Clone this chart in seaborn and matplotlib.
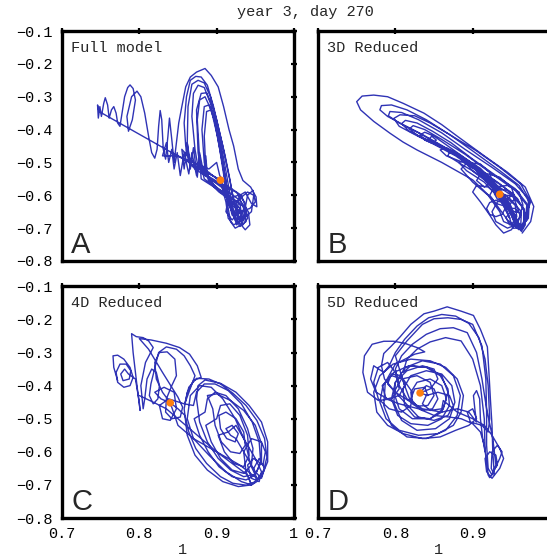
import matplotlib
matplotlib.use("Agg")
import matplotlib.pyplot as plt
import seaborn as sns

sns.set_theme(style="white")
plt.rcParams["font.family"] = ["Liberation Mono", "DejaVu Sans Mono"]

LINE_COLOR = "#2f33b5"
DOT_COLOR = "#ff7f0e"

TITLE = "year 3, day 270"
PANEL_NAMES = ["Full model", "3D Reduced", "4D Reduced", "5D Reduced"]
PANEL_LETTERS = ["A", "B", "C", "D"]

X_TICKS = [0.7, 0.8, 0.9, 1.0]
X_TICK_LABELS = ["0.7", "0.8", "0.9", "1"]
Y_TICKS = [-0.8, -0.7, -0.6, -0.5, -0.4, -0.3, -0.2, -0.1]
Y_TICK_LABELS = ["\u22120.8", "\u22120.7", "\u22120.6", "\u22120.5",
                 "\u22120.4", "\u22120.3", "\u22120.2", "\u22120.1"]

# current state (orange dot) of each model
full_dot = (0.905, -0.554)
reduced3_dot = (0.935, -0.597)
reduced4_dot = (0.840, -0.452)
reduced5_dot = (0.832, -0.422)

# trajectories, (x, y) pairs
full_path = [
    (0.905, -0.554), (0.748, -0.345),
    (0.746, -0.325), (0.747, -0.365), (0.749, -0.330), (0.751, -0.360),
    (0.754, -0.320), (0.756, -0.303), (0.759, -0.325), (0.761, -0.365),
    (0.764, -0.340), (0.767, -0.330), (0.770, -0.350), (0.772, -0.380),
    (0.775, -0.390), (0.778, -0.345), (0.781, -0.300), (0.785, -0.272),
    (0.788, -0.264), (0.792, -0.275), (0.795, -0.310), (0.791, -0.370),
    (0.786, -0.405), (0.784, -0.360), (0.790, -0.300), (0.797, -0.283),
    (0.802, -0.300), (0.807, -0.350), (0.812, -0.420), (0.816, -0.470),
    (0.820, -0.487), (0.823, -0.460), (0.825, -0.390), (0.827, -0.342),
    (0.829, -0.370), (0.831, -0.460), (0.834, -0.490), (0.837, -0.420),
    (0.839, -0.365), (0.842, -0.430), (0.845, -0.500), (0.848, -0.440),
    (0.851, -0.380),
    (0.855, -0.330), (0.860, -0.270), (0.866, -0.240), (0.874, -0.225),
    (0.885, -0.214), (0.893, -0.235), (0.902, -0.270), (0.909, -0.330),
    (0.916, -0.400), (0.922, -0.450), (0.928, -0.520), (0.934, -0.555),
    (0.944, -0.575), (0.951, -0.605), (0.952, -0.635), (0.945, -0.625),
    (0.937, -0.590), (0.930, -0.600), (0.926, -0.650), (0.930, -0.685),
    (0.937, -0.705), (0.943, -0.690), (0.941, -0.650), (0.930, -0.615),
    (0.915, -0.590), (0.900, -0.565), (0.885, -0.540), (0.872, -0.520),
    (0.864, -0.500), (0.860, -0.450),
    (0.858, -0.380), (0.861, -0.300), (0.866, -0.250), (0.873, -0.238),
    (0.880, -0.240), (0.888, -0.265), (0.896, -0.330), (0.904, -0.410),
    (0.911, -0.480), (0.917, -0.550), (0.922, -0.620), (0.928, -0.665),
    (0.935, -0.678), (0.939, -0.645), (0.932, -0.600), (0.918, -0.578),
    (0.902, -0.560), (0.888, -0.540), (0.876, -0.515), (0.872, -0.460),
    (0.868, -0.360), (0.870, -0.290), (0.876, -0.265), (0.884, -0.272),
    (0.892, -0.320), (0.900, -0.400), (0.907, -0.490), (0.913, -0.570),
    (0.919, -0.640), (0.926, -0.690), (0.933, -0.670), (0.930, -0.625),
    (0.915, -0.600), (0.898, -0.575), (0.884, -0.550), (0.878, -0.490),
    (0.875, -0.370), (0.878, -0.310), (0.885, -0.300), (0.893, -0.340),
    (0.901, -0.420), (0.908, -0.510), (0.914, -0.600), (0.920, -0.660),
    (0.927, -0.675), (0.930, -0.640), (0.918, -0.615), (0.903, -0.590),
    (0.890, -0.560), (0.884, -0.500), (0.881, -0.400), (0.884, -0.330),
    (0.890, -0.325), (0.897, -0.370), (0.904, -0.460), (0.910, -0.550),
    (0.916, -0.630), (0.923, -0.665), (0.925, -0.630), (0.912, -0.600),
    (0.897, -0.570),
    (0.888, -0.540), (0.886, -0.480), (0.883, -0.530), (0.878, -0.470),
    (0.875, -0.545), (0.870, -0.455), (0.866, -0.520), (0.862, -0.440),
    (0.858, -0.520), (0.855, -0.460), (0.870, -0.500), (0.890, -0.520),
    (0.900, -0.500), (0.904, -0.540), (0.910, -0.560), (0.915, -0.640),
    (0.918, -0.680), (0.924, -0.700), (0.932, -0.690), (0.936, -0.650),
    (0.940, -0.600), (0.947, -0.585), (0.950, -0.620), (0.943, -0.640),
    (0.930, -0.650), (0.915, -0.620), (0.905, -0.554),
    (0.895, -0.540), (0.880, -0.525), (0.866, -0.505), (0.862, -0.440),
    (0.863, -0.330), (0.868, -0.262), (0.876, -0.250), (0.884, -0.258),
    (0.892, -0.300), (0.900, -0.370), (0.908, -0.450), (0.915, -0.530),
    (0.921, -0.600), (0.927, -0.660), (0.934, -0.690), (0.940, -0.670),
    (0.936, -0.620), (0.925, -0.590), (0.910, -0.575), (0.895, -0.555),
    (0.880, -0.530), (0.876, -0.470), (0.874, -0.340), (0.880, -0.290),
    (0.887, -0.288), (0.895, -0.330), (0.903, -0.410), (0.910, -0.500),
    (0.916, -0.580), (0.922, -0.650), (0.930, -0.695), (0.938, -0.680),
    (0.935, -0.635), (0.920, -0.610), (0.905, -0.585), (0.892, -0.560),
    (0.886, -0.520), (0.884, -0.420), (0.887, -0.345), (0.893, -0.340),
    (0.900, -0.390), (0.906, -0.470), (0.912, -0.560), (0.918, -0.640),
    (0.925, -0.680), (0.932, -0.660), (0.920, -0.620), (0.900, -0.580),
    (0.880, -0.550), (0.878, -0.480), (0.874, -0.540), (0.868, -0.470),
    (0.864, -0.535), (0.858, -0.470), (0.853, -0.540), (0.849, -0.470),
    (0.845, -0.520), (0.842, -0.460), (0.838, -0.500), (0.835, -0.440),
    (0.830, -0.480), (0.850, -0.480), (0.870, -0.500), (0.890, -0.530),
    (0.905, -0.560), (0.912, -0.620), (0.915, -0.670), (0.922, -0.690),
    (0.930, -0.680), (0.935, -0.640), (0.928, -0.600), (0.915, -0.610),
    (0.912, -0.650), (0.920, -0.675), (0.928, -0.655), (0.925, -0.620),
    (0.940, -0.590), (0.948, -0.600), (0.945, -0.650), (0.935, -0.670),
    (0.925, -0.660), (0.918, -0.630), (0.905, -0.554),
]

reduced3_path = [
    (0.964, -0.715), (0.975, -0.680), (0.979, -0.634), (0.968, -0.575),
    (0.945, -0.530), (0.915, -0.480), (0.880, -0.420), (0.860, -0.385),
    (0.837, -0.350), (0.810, -0.320), (0.790, -0.300), (0.772, -0.295),
    (0.757, -0.298), (0.750, -0.315), (0.755, -0.340), (0.772, -0.375),
    (0.793, -0.411), (0.810, -0.438), (0.828, -0.462), (0.860, -0.500),
    (0.900, -0.553), (0.925, -0.610), (0.945, -0.675), (0.960, -0.705),
    (0.972, -0.670), (0.973, -0.620), (0.960, -0.570), (0.935, -0.525),
    (0.900, -0.465), (0.870, -0.415), (0.845, -0.380), (0.825, -0.358),
    (0.806, -0.355), (0.798, -0.366), (0.805, -0.390), (0.825, -0.415),
    (0.850, -0.445), (0.878, -0.480), (0.902, -0.520), (0.922, -0.565),
    (0.940, -0.615), (0.952, -0.665), (0.960, -0.700),
    (0.970, -0.675), (0.970, -0.625), (0.955, -0.580), (0.930, -0.540),
    (0.900, -0.490), (0.872, -0.440), (0.848, -0.405), (0.828, -0.380),
    (0.813, -0.372), (0.808, -0.382), (0.818, -0.405), (0.842, -0.432),
    (0.870, -0.462), (0.898, -0.502), (0.922, -0.548), (0.942, -0.605),
    (0.953, -0.665), (0.963, -0.710),
    (0.968, -0.690), (0.966, -0.640), (0.952, -0.595), (0.925, -0.550),
    (0.895, -0.495), (0.868, -0.450), (0.850, -0.420), (0.838, -0.408),
    (0.832, -0.416), (0.838, -0.432), (0.848, -0.442), (0.853, -0.432),
    (0.847, -0.420), (0.842, -0.434), (0.860, -0.455), (0.885, -0.480),
    (0.910, -0.518), (0.930, -0.565), (0.948, -0.625), (0.958, -0.680),
    (0.965, -0.700), (0.968, -0.655), (0.958, -0.610), (0.935, -0.565),
    (0.905, -0.515), (0.882, -0.475), (0.866, -0.455), (0.858, -0.462),
    (0.866, -0.480), (0.890, -0.502), (0.915, -0.535), (0.935, -0.585),
    (0.950, -0.640), (0.956, -0.690),
    (0.945, -0.700), (0.930, -0.680), (0.925, -0.650), (0.932, -0.620),
    (0.945, -0.610), (0.955, -0.630), (0.957, -0.665), (0.950, -0.690),
    (0.940, -0.680), (0.935, -0.650), (0.920, -0.600), (0.900, -0.560),
    (0.885, -0.520), (0.893, -0.500), (0.910, -0.505), (0.922, -0.530),
    (0.925, -0.560), (0.915, -0.575), (0.905, -0.555), (0.912, -0.530),
    (0.935, -0.545), (0.950, -0.575), (0.955, -0.610), (0.945, -0.635),
    (0.930, -0.625), (0.922, -0.600), (0.928, -0.575), (0.945, -0.570),
    (0.960, -0.590), (0.965, -0.630), (0.960, -0.670), (0.950, -0.705),
    (0.940, -0.715), (0.930, -0.690), (0.922, -0.660), (0.910, -0.620),
    (0.900, -0.590), (0.905, -0.570), (0.920, -0.575), (0.932, -0.600),
    (0.955, -0.660), (0.962, -0.705),
    (0.975, -0.620), (0.962, -0.565), (0.935, -0.515), (0.905, -0.465),
    (0.870, -0.415), (0.840, -0.370), (0.815, -0.340), (0.795, -0.325),
    (0.782, -0.327), (0.780, -0.340), (0.790, -0.360), (0.810, -0.385),
    (0.835, -0.415), (0.865, -0.455), (0.895, -0.500), (0.920, -0.550),
    (0.940, -0.610), (0.955, -0.670), (0.962, -0.705),
    (0.972, -0.660), (0.972, -0.610), (0.955, -0.565), (0.925, -0.515),
    (0.890, -0.460), (0.860, -0.410), (0.830, -0.370), (0.808, -0.348),
    (0.793, -0.345), (0.791, -0.358), (0.805, -0.380), (0.830, -0.410),
    (0.860, -0.450), (0.890, -0.495), (0.915, -0.545), (0.935, -0.600),
    (0.950, -0.660), (0.958, -0.700),
    (0.968, -0.680), (0.970, -0.630), (0.955, -0.585), (0.925, -0.535),
    (0.890, -0.475), (0.860, -0.430), (0.838, -0.400), (0.823, -0.388),
    (0.818, -0.398), (0.830, -0.420), (0.855, -0.447), (0.885, -0.485),
    (0.912, -0.530), (0.932, -0.585), (0.947, -0.645), (0.956, -0.695),
    (0.966, -0.690), (0.966, -0.640), (0.950, -0.600), (0.925, -0.560),
    (0.900, -0.515), (0.882, -0.480), (0.870, -0.468), (0.868, -0.480),
    (0.885, -0.505), (0.910, -0.540), (0.930, -0.590), (0.945, -0.650),
    (0.952, -0.700),
    (0.962, -0.700), (0.963, -0.650), (0.948, -0.610), (0.925, -0.570),
    (0.902, -0.530), (0.888, -0.495), (0.882, -0.500), (0.892, -0.525),
    (0.915, -0.560), (0.935, -0.610), (0.948, -0.670),
    (0.942, -0.640), (0.938, -0.658), (0.930, -0.665), (0.922, -0.658),
    (0.918, -0.640), (0.922, -0.622), (0.930, -0.615), (0.938, -0.622),
    (0.942, -0.640), (0.955, -0.640), (0.962, -0.660), (0.958, -0.685),
    (0.948, -0.690), (0.943, -0.668), (0.950, -0.648), (0.960, -0.652),
    (0.952, -0.600), (0.945, -0.585), (0.935, -0.582), (0.928, -0.595),
    (0.932, -0.612), (0.942, -0.615), (0.950, -0.602), (0.935, -0.597),
]

reduced4_path = [
    (0.772, -0.385), (0.767, -0.345), (0.766, -0.310), (0.772, -0.308),
    (0.780, -0.320), (0.788, -0.345), (0.792, -0.375), (0.788, -0.400),
    (0.780, -0.405), (0.772, -0.390), (0.770, -0.360), (0.775, -0.335),
    (0.783, -0.335), (0.789, -0.355), (0.787, -0.380), (0.779, -0.385),
    (0.776, -0.365), (0.781, -0.350), (0.786, -0.365), (0.795, -0.380),
    (0.800, -0.450), (0.801, -0.475), (0.797, -0.400), (0.792, -0.300),
    (0.790, -0.243), (0.796, -0.252), (0.805, -0.255), (0.812, -0.265),
    (0.818, -0.285), (0.808, -0.330), (0.802, -0.400), (0.805, -0.470),
    (0.807, -0.440), (0.810, -0.380), (0.816, -0.350), (0.822, -0.360),
    (0.826, -0.400), (0.824, -0.440), (0.818, -0.455), (0.813, -0.430),
    (0.815, -0.395), (0.825, -0.300), (0.835, -0.283), (0.848, -0.290),
    (0.858, -0.310), (0.866, -0.340), (0.872, -0.370),
    (0.859, -0.453), (0.864, -0.405), (0.874, -0.378), (0.890, -0.380),
    (0.905, -0.395), (0.921, -0.423), (0.938, -0.460), (0.952, -0.505),
    (0.962, -0.560), (0.965, -0.616), (0.961, -0.655), (0.950, -0.690),
    (0.939, -0.701), (0.921, -0.695), (0.905, -0.675), (0.887, -0.635),
    (0.873, -0.590), (0.864, -0.540), (0.859, -0.490),
    (0.850, -0.470), (0.840, -0.452), (0.828, -0.440), (0.820, -0.420),
    (0.832, -0.405), (0.845, -0.420), (0.848, -0.470), (0.840, -0.505),
    (0.830, -0.500), (0.826, -0.460), (0.838, -0.440), (0.858, -0.455),
    (0.870, -0.460), (0.874, -0.420), (0.884, -0.395), (0.898, -0.395),
    (0.915, -0.415), (0.932, -0.455), (0.946, -0.510), (0.955, -0.570),
    (0.957, -0.630), (0.950, -0.670), (0.938, -0.685), (0.920, -0.675),
    (0.903, -0.645), (0.889, -0.600), (0.878, -0.550), (0.871, -0.500),
    (0.885, -0.480), (0.888, -0.440), (0.898, -0.420), (0.912, -0.430),
    (0.928, -0.470), (0.940, -0.530), (0.947, -0.590), (0.945, -0.640),
    (0.935, -0.665), (0.920, -0.655), (0.905, -0.620), (0.893, -0.570),
    (0.886, -0.520), (0.900, -0.500), (0.905, -0.460), (0.917, -0.455),
    (0.930, -0.490), (0.940, -0.550), (0.942, -0.610), (0.935, -0.645),
    (0.922, -0.635), (0.910, -0.600), (0.902, -0.550), (0.915, -0.540),
    (0.925, -0.520), (0.935, -0.560), (0.950, -0.620), (0.958, -0.660),
    (0.955, -0.690), (0.945, -0.680), (0.940, -0.640), (0.948, -0.620),
    (0.960, -0.640), (0.963, -0.600), (0.958, -0.570), (0.945, -0.560),
    (0.935, -0.600), (0.938, -0.660), (0.945, -0.700), (0.932, -0.690),
    (0.912, -0.660), (0.890, -0.610), (0.870, -0.560), (0.862, -0.500),
    (0.866, -0.430), (0.878, -0.400), (0.893, -0.405), (0.908, -0.440),
    (0.924, -0.500), (0.937, -0.570), (0.944, -0.640), (0.952, -0.680),
    (0.930, -0.640), (0.900, -0.600), (0.870, -0.560), (0.850, -0.520),
    (0.840, -0.452),
    (0.830, -0.420), (0.822, -0.380), (0.820, -0.330), (0.826, -0.300),
    (0.836, -0.298), (0.846, -0.320), (0.848, -0.370), (0.842, -0.400),
    (0.835, -0.440), (0.834, -0.480), (0.842, -0.500), (0.853, -0.495),
    (0.856, -0.465), (0.850, -0.435), (0.846, -0.420), (0.830, -0.360),
    (0.812, -0.290), (0.800, -0.258), (0.815, -0.262), (0.835, -0.272),
    (0.852, -0.285), (0.865, -0.305), (0.875, -0.340), (0.880, -0.375),
    (0.870, -0.385), (0.862, -0.420), (0.858, -0.470), (0.862, -0.550),
    (0.872, -0.610), (0.888, -0.655), (0.908, -0.690), (0.928, -0.705),
    (0.945, -0.700), (0.958, -0.675), (0.966, -0.630), (0.966, -0.570),
    (0.958, -0.510), (0.942, -0.460), (0.925, -0.420), (0.905, -0.393),
    (0.885, -0.383), (0.876, -0.400), (0.874, -0.440), (0.878, -0.510),
    (0.888, -0.570), (0.902, -0.620), (0.918, -0.655), (0.935, -0.675),
    (0.950, -0.668), (0.958, -0.630), (0.958, -0.575), (0.950, -0.520),
    (0.935, -0.475), (0.918, -0.445), (0.900, -0.425), (0.888, -0.430),
    (0.895, -0.470), (0.898, -0.520), (0.906, -0.570), (0.918, -0.600),
    (0.930, -0.605), (0.937, -0.580), (0.935, -0.540), (0.925, -0.500),
    (0.912, -0.480), (0.903, -0.490), (0.905, -0.530), (0.913, -0.560),
    (0.924, -0.570), (0.928, -0.545), (0.920, -0.520), (0.912, -0.530),
    (0.918, -0.550), (0.925, -0.560), (0.935, -0.600), (0.945, -0.640),
    (0.950, -0.660), (0.958, -0.680), (0.962, -0.650), (0.955, -0.620),
    (0.948, -0.650), (0.952, -0.690), (0.945, -0.700), (0.940, -0.670),
    (0.900, -0.600), (0.870, -0.540), (0.850, -0.500), (0.835, -0.470),
    (0.818, -0.450), (0.800, -0.430),
]

reduced5_path = [
    (0.832, -0.422), (0.840, -0.400), (0.850, -0.410), (0.855, -0.440),
    (0.848, -0.470), (0.835, -0.475), (0.822, -0.455), (0.820, -0.420),
    (0.828, -0.390), (0.845, -0.380), (0.860, -0.400), (0.866, -0.440),
    (0.860, -0.480), (0.845, -0.500), (0.825, -0.495), (0.812, -0.460),
    (0.810, -0.410), (0.820, -0.370), (0.840, -0.355), (0.860, -0.365),
    (0.873, -0.400), (0.877, -0.450), (0.870, -0.500), (0.852, -0.530),
    (0.828, -0.535), (0.808, -0.505), (0.798, -0.450), (0.800, -0.390),
    (0.813, -0.345), (0.835, -0.325), (0.858, -0.335), (0.875, -0.370),
    (0.884, -0.430), (0.880, -0.490), (0.865, -0.535), (0.840, -0.560),
    (0.815, -0.555), (0.795, -0.520), (0.785, -0.460), (0.787, -0.390),
    (0.800, -0.335), (0.825, -0.305), (0.838, -0.298), (0.828, -0.285),
    (0.812, -0.272), (0.798, -0.266), (0.785, -0.266), (0.770, -0.275),
    (0.760, -0.310),
    (0.758, -0.360), (0.764, -0.420), (0.778, -0.445), (0.795, -0.440),
    (0.805, -0.410), (0.800, -0.360), (0.790, -0.330), (0.778, -0.345),
    (0.772, -0.390), (0.778, -0.440), (0.792, -0.470), (0.808, -0.480),
    (0.820, -0.460), (0.822, -0.420), (0.810, -0.380), (0.795, -0.370),
    (0.783, -0.400), (0.788, -0.440), (0.805, -0.455),
    (0.830, -0.470), (0.850, -0.490), (0.870, -0.495), (0.885, -0.500),
    (0.900, -0.515), (0.910, -0.540), (0.915, -0.580), (0.918, -0.630),
    (0.920, -0.670), (0.922, -0.678), (0.927, -0.660), (0.935, -0.620),
    (0.938, -0.600), (0.932, -0.580), (0.925, -0.600), (0.924, -0.650),
    (0.928, -0.670), (0.926, -0.600), (0.925, -0.520), (0.923, -0.444),
    (0.921, -0.360), (0.919, -0.283), (0.910, -0.230), (0.901, -0.188),
    (0.885, -0.175), (0.867, -0.162), (0.850, -0.175), (0.837, -0.183),
    (0.820, -0.215), (0.806, -0.253), (0.795, -0.280), (0.785, -0.303),
    (0.782, -0.340), (0.786, -0.380), (0.800, -0.420), (0.820, -0.450),
    (0.812, -0.400), (0.800, -0.310), (0.815, -0.265), (0.835, -0.215),
    (0.850, -0.198), (0.868, -0.195), (0.885, -0.200), (0.900, -0.215),
    (0.912, -0.280), (0.917, -0.380), (0.918, -0.480), (0.918, -0.580),
    (0.920, -0.650), (0.925, -0.670), (0.930, -0.640), (0.926, -0.560),
    (0.918, -0.470), (0.912, -0.380), (0.905, -0.300), (0.893, -0.240),
    (0.875, -0.225), (0.858, -0.228), (0.840, -0.245), (0.822, -0.275),
    (0.808, -0.310), (0.800, -0.350), (0.805, -0.400), (0.815, -0.440),
    (0.835, -0.470), (0.860, -0.480), (0.880, -0.470), (0.895, -0.480),
    (0.905, -0.510), (0.903, -0.475), (0.901, -0.430), (0.905, -0.415),
    (0.909, -0.440), (0.910, -0.500), (0.913, -0.560), (0.916, -0.600),
    (0.915, -0.500), (0.910, -0.400), (0.900, -0.320), (0.885, -0.265),
    (0.865, -0.255), (0.845, -0.268), (0.828, -0.290), (0.815, -0.320),
    (0.810, -0.360), (0.820, -0.340), (0.842, -0.345), (0.860, -0.370),
    (0.868, -0.420), (0.862, -0.470), (0.845, -0.500), (0.822, -0.500),
    (0.805, -0.470), (0.798, -0.420), (0.808, -0.380), (0.828, -0.370),
    (0.845, -0.390), (0.850, -0.430), (0.842, -0.460), (0.828, -0.462),
    (0.820, -0.440), (0.825, -0.410), (0.838, -0.405), (0.842, -0.430),
    (0.832, -0.422),
    (0.845, -0.410), (0.855, -0.380), (0.850, -0.350), (0.835, -0.340),
    (0.815, -0.355), (0.800, -0.390), (0.795, -0.440), (0.803, -0.490),
    (0.820, -0.515), (0.842, -0.520), (0.860, -0.500), (0.870, -0.460),
    (0.868, -0.410), (0.858, -0.370), (0.840, -0.345), (0.818, -0.340),
    (0.798, -0.360), (0.784, -0.400), (0.780, -0.450), (0.788, -0.500),
    (0.805, -0.535), (0.830, -0.550), (0.855, -0.545), (0.875, -0.520),
    (0.885, -0.480), (0.888, -0.430), (0.880, -0.380), (0.865, -0.345),
    (0.845, -0.325), (0.820, -0.320), (0.797, -0.335), (0.780, -0.370),
    (0.772, -0.420), (0.776, -0.480), (0.790, -0.520), (0.810, -0.545),
    (0.835, -0.560), (0.858, -0.555), (0.878, -0.535), (0.895, -0.520),
    (0.905, -0.500), (0.900, -0.470), (0.893, -0.480), (0.897, -0.510),
    (0.912, -0.520), (0.920, -0.540), (0.922, -0.500), (0.920, -0.400),
    (0.916, -0.320), (0.908, -0.255), (0.895, -0.212), (0.878, -0.190),
    (0.860, -0.185), (0.843, -0.195), (0.828, -0.220), (0.812, -0.260),
    (0.800, -0.300), (0.792, -0.340), (0.785, -0.360), (0.772, -0.340),
    (0.768, -0.380), (0.775, -0.420), (0.790, -0.440), (0.805, -0.430),
    (0.812, -0.400), (0.808, -0.370), (0.795, -0.365), (0.790, -0.395),
    (0.800, -0.420), (0.820, -0.470), (0.830, -0.495), (0.850, -0.505),
    (0.868, -0.490), (0.875, -0.460), (0.870, -0.430), (0.855, -0.420),
    (0.840, -0.430), (0.835, -0.455), (0.845, -0.475), (0.860, -0.470),
    (0.862, -0.445), (0.880, -0.480), (0.900, -0.500), (0.915, -0.520),
    (0.925, -0.550), (0.935, -0.590), (0.940, -0.620), (0.935, -0.650),
    (0.925, -0.680), (0.918, -0.660), (0.916, -0.620), (0.922, -0.600),
    (0.930, -0.610), (0.932, -0.640), (0.926, -0.660),
]

# axes boxes in figure fractions [left, bottom, width, height]
AX_BOXES = [
    [0.1133, 0.5331, 0.4241, 0.4114],
    [0.5814, 0.5331, 0.4241, 0.4114],
    [0.1133, 0.0733, 0.4241, 0.4145],
    [0.5814, 0.0733, 0.4241, 0.4145],
]


def draw_panel(ax, path, dot, name, letter, show_x, show_y, clip_last_x):
    """
    Draw one phase-space trajectory with its current state.
    """
    xs = [p[0] for p in path]
    ys = [p[1] for p in path]

    sns.lineplot(
        x=xs,
        y=ys,
        sort=False,
        estimator=None,
        color=LINE_COLOR,
        linewidth=1.0,
        ax=ax,
    )
    sns.scatterplot(
        x=[dot[0]],
        y=[dot[1]],
        color=DOT_COLOR,
        s=30,
        edgecolor="none",
        zorder=5,
        ax=ax,
    )

    ax.set_xlim(0.7, 1.0)
    ax.set_ylim(-0.8, -0.1)
    ax.set_xticks(X_TICKS)
    ax.set_yticks(Y_TICKS)

    x_labels = list(X_TICK_LABELS) if show_x else []
    if show_x and clip_last_x:
        # the figure edge cuts this label off in the original
        x_labels[-1] = ""
    ax.set_xticklabels(x_labels)
    ax.set_yticklabels(Y_TICK_LABELS if show_y else [])
    ax.tick_params(
        direction="inout",
        length=5,
        width=1.6,
        top=True,
        right=True,
        labelsize=11,
        pad=4,
        colors="black",
    )
    for spine in ax.spines.values():
        spine.set_linewidth(2.4)
        spine.set_color("black")

    ax.set_xlabel("1" if show_x else "", fontsize=11)
    ax.xaxis.set_label_coords(0.52, -0.108)
    ax.set_ylabel("")

    ax.text(0.039, 0.958, name, transform=ax.transAxes,
            ha="left", va="top", fontsize=11)
    ax.text(0.04, 0.035, letter, transform=ax.transAxes,
            ha="left", va="baseline", fontsize=21,
            family=["Liberation Sans", "DejaVu Sans"])


def main():
    fig = plt.figure(figsize=(5.47, 5.59), dpi=100)

    paths = [full_path, reduced3_path, reduced4_path, reduced5_path]
    dots = [full_dot, reduced3_dot, reduced4_dot, reduced5_dot]

    for i, box in enumerate(AX_BOXES):
        ax = fig.add_axes(box)
        draw_panel(
            ax,
            paths[i],
            dots[i],
            PANEL_NAMES[i],
            PANEL_LETTERS[i],
            show_x=i >= 2,
            show_y=i % 2 == 0,
            clip_last_x=i == 3,
        )

    fig.text(0.559, 0.979, TITLE, ha="center", va="center", fontsize=11)

    fig.savefig("out.png", dpi=100)
    plt.close(fig)


if __name__ == "__main__":
    main()
